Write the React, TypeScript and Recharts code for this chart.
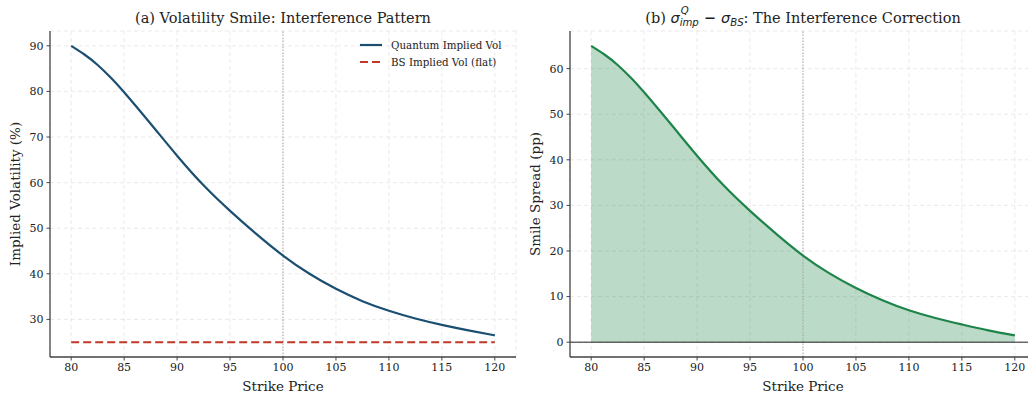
import React from 'react';
import { ComposedChart, Line, Area, XAxis, YAxis, CartesianGrid, ReferenceLine } from 'recharts';

const strikes = [80, 81.25, 82.5, 83.75, 85, 87.5, 90, 92.5, 95, 97.5, 100, 102.5, 105, 107.5, 110, 112.5, 115, 117.5, 120];
const quantumVol = [90.0, 88.1, 85.8, 83.0, 79.8, 72.9, 65.9, 59.4, 53.8, 48.7, 44.0, 40.0, 36.7, 34.0, 31.9, 30.2, 28.8, 27.6, 26.5];
const bsVol = [25, 25, 25, 25, 25, 25, 25, 25, 25, 25, 25, 25, 25, 25, 25, 25, 25, 25, 25];
const spread = [65.0, 63.1, 60.8, 58.0, 54.8, 47.9, 40.9, 34.4, 28.8, 23.7, 19.0, 15.1, 11.9, 9.2, 7.0, 5.3, 3.9, 2.6, 1.5];

const xTicks = [80, 85, 90, 95, 100, 105, 110, 115, 120];
const leftYTicks = [30, 40, 50, 60, 70, 80, 90];
const rightYTicks = [0, 10, 20, 30, 40, 50, 60];

const leftTitle = '(a) Volatility Smile: Interference Pattern';
const legendLabels = ['Quantum Implied Vol', 'BS Implied Vol (flat)'];

const leftData = strikes.map((k, i) => ({ k, q: quantumVol[i], bs: bsVol[i] }));
const rightData = strikes.map((k, i) => ({ k, s: spread[i] }));

const FONT = '"DejaVu Serif", serif';
const MATH = '"DejaVu Sans", sans-serif';
const BLUE = '#1B4F72';
const RED = '#C0392B';
const GREEN = '#1E8449';
const AXIS = '#444';
const TXT = '#222';

const tickStyle = { fontFamily: FONT, fontSize: 11, fill: TXT };

export default function App() {
  return (
    <div style={{ position: 'absolute', left: 0, top: 0, width: 1028, height: 393, overflow: 'hidden', background: '#fff', fontFamily: FONT, color: TXT }}>
      {/* Titles */}
      <div style={{ position: 'absolute', left: 50, width: 466, top: 8, textAlign: 'center', fontSize: 14.5, lineHeight: '20px', whiteSpace: 'nowrap' }}>
        {leftTitle}
      </div>
      <div style={{ position: 'absolute', left: 570, width: 466, top: 8, textAlign: 'center', fontSize: 14.5, lineHeight: '20px', whiteSpace: 'nowrap' }}>
        (b){' '}
        <span style={{ fontFamily: MATH, fontStyle: 'italic' }}>σ</span>
        <span style={{ position: 'relative', display: 'inline-block', fontSize: '0.7em', verticalAlign: '-0.3em', fontFamily: MATH, fontStyle: 'italic' }}>
          <span>imp</span>
          <span style={{ position: 'absolute', left: 1, top: '-1.2em' }}>Q</span>
        </span>
        <span style={{ fontFamily: MATH, fontWeight: 'bold' }}> − </span>
        <span style={{ fontFamily: MATH, fontStyle: 'italic' }}>σ</span>
        <span style={{ fontFamily: MATH, fontStyle: 'italic', fontSize: '0.7em', verticalAlign: '-0.3em' }}>BS</span>
        : The Interference Correction
      </div>

      {/* Left chart */}
      <div style={{ position: 'absolute', left: 0, top: 0 }}>
        <ComposedChart width={540} height={393} data={leftData} margin={{ top: 31, right: 24, left: 0, bottom: 0 }}>
          <CartesianGrid stroke="#e4e4e4" strokeDasharray="4 3" strokeWidth={0.8} />
          <XAxis
            dataKey="k" type="number" domain={[78, 122]} ticks={xTicks} allowDataOverflow
            tick={tickStyle} tickSize={3.5} tickMargin={3} height={36}
            axisLine={{ stroke: AXIS, strokeWidth: 1.3 }} tickLine={{ stroke: AXIS, strokeWidth: 1 }}
            label={{ value: 'Strike Price', position: 'insideBottom', offset: 2, style: { fontFamily: FONT, fontSize: 13.5, fill: TXT } }}
          />
          <YAxis
            type="number" domain={[21.75, 93.25]} ticks={leftYTicks} allowDataOverflow
            tick={tickStyle} tickSize={3.5} tickMargin={3} width={50}
            axisLine={{ stroke: AXIS, strokeWidth: 1.3 }} tickLine={{ stroke: AXIS, strokeWidth: 1 }}
            label={{ value: 'Implied Volatility (%)', angle: -90, position: 'insideLeft', offset: 15, style: { fontFamily: FONT, fontSize: 13.5, fill: TXT, textAnchor: 'middle' } }}
          />
          <ReferenceLine x={100} stroke="#aaaaaa" strokeDasharray="1.5 1.5" strokeWidth={1} />
          <Line dataKey="bs" type="linear" stroke={RED} strokeWidth={2} strokeDasharray="8 4" dot={false} isAnimationActive={false} />
          <Line dataKey="q" type="natural" stroke={BLUE} strokeWidth={2.2} dot={false} isAnimationActive={false} />
        </ComposedChart>
      </div>

      {/* Legend */}
      <div style={{ position: 'absolute', left: 360, top: 37, fontSize: 10.3, lineHeight: '16.5px', whiteSpace: 'nowrap' }}>
        <div style={{ display: 'flex', alignItems: 'center' }}>
          <svg width={22} height={8} style={{ marginRight: 9 }}><line x1={0} y1={4} x2={22} y2={4} stroke={BLUE} strokeWidth={2.2} /></svg>
          {legendLabels[0]}
        </div>
        <div style={{ display: 'flex', alignItems: 'center' }}>
          <svg width={22} height={8} style={{ marginRight: 9 }}><line x1={0} y1={4} x2={22} y2={4} stroke={RED} strokeWidth={2} strokeDasharray="8 4" /></svg>
          {legendLabels[1]}
        </div>
      </div>

      {/* Right chart */}
      <div style={{ position: 'absolute', left: 520, top: 0 }}>
        <ComposedChart width={526} height={393} data={rightData} margin={{ top: 31, right: 10, left: 0, bottom: 0 }}>
          <CartesianGrid stroke="#e4e4e4" strokeDasharray="4 3" strokeWidth={0.8} />
          <XAxis
            dataKey="k" type="number" domain={[78, 122]} ticks={xTicks} allowDataOverflow
            tick={tickStyle} tickSize={3.5} tickMargin={3} height={36}
            axisLine={{ stroke: AXIS, strokeWidth: 1.3 }} tickLine={{ stroke: AXIS, strokeWidth: 1 }}
            label={{ value: 'Strike Price', position: 'insideBottom', offset: 2, style: { fontFamily: FONT, fontSize: 13.5, fill: TXT } }}
          />
          <YAxis
            type="number" domain={[-3.25, 68.25]} ticks={rightYTicks} allowDataOverflow
            tick={tickStyle} tickSize={3.5} tickMargin={3} width={50}
            axisLine={{ stroke: AXIS, strokeWidth: 1.3 }} tickLine={{ stroke: AXIS, strokeWidth: 1 }}
            label={{ value: 'Smile Spread (pp)', angle: -90, position: 'insideLeft', offset: 15, style: { fontFamily: FONT, fontSize: 13.5, fill: TXT, textAnchor: 'middle' } }}
          />
          <Area dataKey="s" type="natural" baseValue={0} fill={GREEN} fillOpacity={0.3} stroke="none" isAnimationActive={false} />
          <ReferenceLine x={100} stroke="#aaaaaa" strokeDasharray="1.5 1.5" strokeWidth={1} />
          <ReferenceLine y={0} stroke="#222" strokeWidth={1} />
          <Line dataKey="s" type="natural" stroke={GREEN} strokeWidth={2.2} dot={false} isAnimationActive={false} />
        </ComposedChart>
      </div>
    </div>
  );
}
